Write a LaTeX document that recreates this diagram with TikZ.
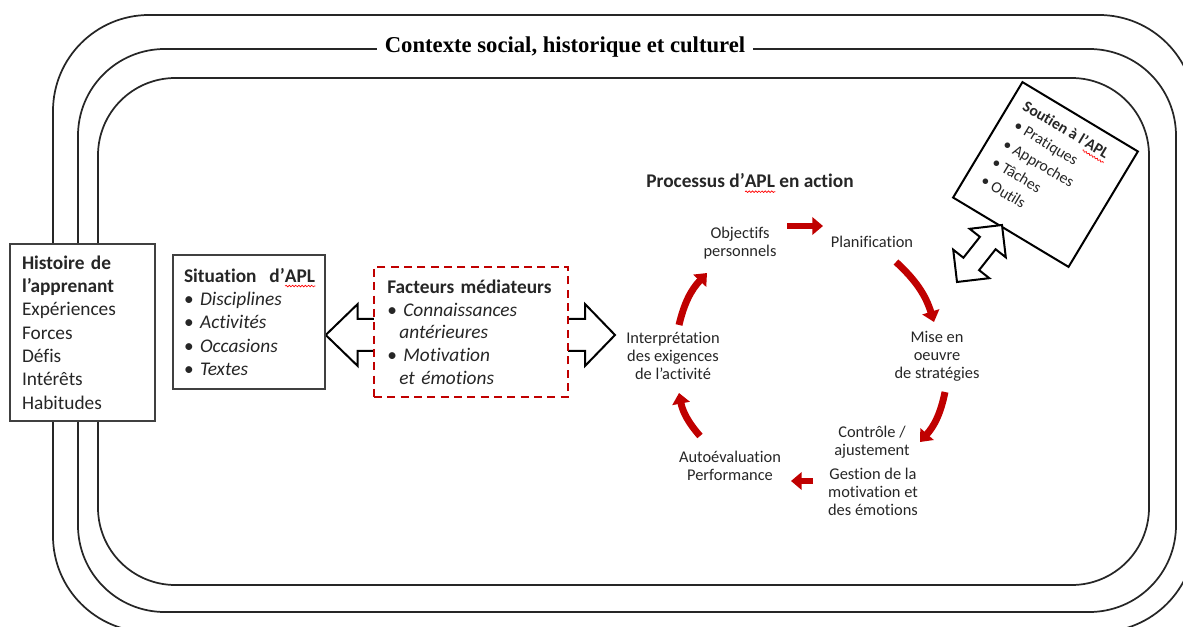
\documentclass[tikz,border=0pt]{standalone}
\usepackage{fontspec}
\setmainfont{Carlito}[Ligatures=NoCommon]
\newfontfamily\titlefont{Liberation Serif}
\usetikzlibrary{arrows.meta,calc,backgrounds,decorations.pathmorphing}
\definecolor{apred}{HTML}{C00000}
\definecolor{txt}{HTML}{262626}
\newsavebox\aplbox
\newcommand\apl{\leavevmode\sbox\aplbox{APL}\rlap{\smash{\tikz[baseline=0pt,x=1pt,y=1pt]\draw[red, line width=.5pt, decorate, decoration={snake,amplitude=.6pt,segment length=2.4pt}] (0,-2.8) -- (\wd\aplbox,-2.8);}}\usebox\aplbox}
\tikzset{
 ctx/.style={line width=1.3pt, draw=black!85},
 boxa/.style={draw=black!75, line width=1.1pt, fill=white, align=left, text=txt,
   font=\fontsize{14.5}{17.5}\selectfont},
 cyc/.style={align=center, inner sep=0pt, text=txt, font=\fontsize{12.3}{13.5}\selectfont},
 redarr/.style={draw=apred, line width=5.2pt, -{Triangle[width=13pt,length=8pt]}},
 blockarrow/.style={draw=black, line width=1.5pt, fill=white, line join=miter},
}
\begin{document}
\begin{tikzpicture}[x=0.75pt,y=-0.75pt]
\useasboundingbox (0,0) rectangle (1183,627);
% context frames
\begin{scope}
\clip (0,0) rectangle (1183,627);
\draw[ctx, rounded corners=72pt] (53,15) rectangle (1195,632);
\draw[ctx, rounded corners=65pt] (78,49) rectangle (1176,612);
\draw[ctx, rounded corners=58pt] (98,78) rectangle (1149,585);
\end{scope}
\node[fill=white, inner xsep=6pt, inner ysep=2pt, font=\titlefont\bfseries\fontsize{17}{20}\selectfont] (ctxt) at (565,47) {Contexte social, historique et culturel};

% left boxes
\node[boxa, minimum width=108.75pt, minimum height=132.75pt, text width=90.75pt, inner xsep=9pt] (hist) at (82.5,332.5)
 {\textbf{Histoire de}\\\textbf{l’apprenant}\\Expériences\\Forces\\Défis\\Intérêts\\Habitudes};

\node[boxa, minimum width=114pt, minimum height=100.5pt, text width=97.5pt, inner xsep=8.25pt] (sit) at (249,322)
 {\mbox{\textbf{Situation\ \ d’\apl}}\\\textbullet\ \textit{Disciplines}\\\textbullet\ \textit{Activités}\\\textbullet\ \textit{Occasions}\\\textbullet\ \textit{Textes}};

\node[boxa, draw=apred, dashed, dash pattern=on 6pt off 4pt, line width=1.5pt, minimum width=145.5pt, minimum height=97.5pt, text width=125.5pt, inner xsep=10pt,
  font=\fontsize{14.5}{17}\selectfont] (fact) at (471,332)
 {\textbf{Facteurs médiateurs}\\\textbullet\ \textit{Connaissances}\\\hspace*{9pt}\textit{antérieures}\\\textbullet\ \textit{Motivation}\\\hspace*{9pt}\textit{et émotions}};

% block double arrow between situation and facteurs
\coordinate (a1) at (sit.east |- 0,335);
\coordinate (a2) at (615,335);
\begin{scope}[on background layer]
\path[blockarrow] (a1) -- ++(32,-31) -- ++(0,15) -- ($(a2)+(-30,-16)$) -- ++(0,-15) -- (a2)
  -- ++(-30,31) -- ++(0,-15) -- ($(a1)+(32,16)$) -- ++(0,15) -- cycle;
\end{scope}

% soutien box
\node[draw=black, line width=1.5pt, fill=white, rotate=-31, minimum size=101pt, inner sep=0pt] (sout) at (1045.5,174.5) {};
\begin{scope}[shift={(sout.north west)}, rotate=-31, transform shape]
\node[anchor=north west, align=left, inner sep=0pt, text=txt, font=\fontsize{11.8}{16}\selectfont] (souttxt) at (14,13)
 {\textbf{Soutien à l’\apl}\\\hspace*{2pt}\textbullet\ Pratiques\\\hspace*{2pt}\textbullet\ Approches\\\hspace*{2pt}\textbullet\ Tâches\\\hspace*{2pt}\textbullet\ Outils};
\end{scope}

% double arrow to soutien box
\coordinate (d0) at (979.5,253.5);
\begin{scope}[shift={(d0)}, rotate=51.7]
\path[blockarrow] (36.3,0) -- (13.3,23) -- (13.3,10) -- (-13.3,10) -- (-13.3,23) -- (-36.3,0)
  -- (-13.3,-23) -- (-13.3,-10) -- (13.3,-10) -- (13.3,-23) -- cycle;
\end{scope}

% cycle
\node[inner sep=0pt, text=txt, font=\bfseries\fontsize{14.5}{17}\selectfont] (proc) at (750,181) {Processus d’\apl{} en action};
\node[cyc] (obj) at (740,243) {Objectifs\\personnels};
\node[cyc] (plan) at (872,242) {Planification};
\node[cyc] (mise) at (937,356) {Mise en\\oeuvre\\de stratégies};
\node[cyc] (ctrl) at (872,442) {Contrôle /\\ajustement};
\node[cyc] (gest) at (873,492) {Gestion de la\\motivation et\\des émotions};
\node[cyc] (auto) at (730,466) {Autoévaluation\\Performance};
\node[cyc] (interp) at (673,356) {Interprétation\\des exigences\\de l’activité};

\coordinate (r1a) at (787,226); \coordinate (r1b) at (823,226);
\coordinate (r2a) at (896,262); \coordinate (r2b) at (934,322);
\coordinate (r3a) at (945,392); \coordinate (r3b) at (920,442);
\coordinate (r4a) at (813,481); \coordinate (r4b) at (791,481);
\coordinate (r5a) at (700,436); \coordinate (r5b) at (679,393);
\coordinate (r6a) at (679,325); \coordinate (r6b) at (707,273);
\draw[redarr] (r1a) -- (r1b);
\draw[redarr] (r2a) to[bend left=15] (r2b);
\draw[redarr] (r3a) to[bend left=15] (r3b);
\draw[redarr] (r4a) -- (r4b);
\draw[redarr] (r5a) to[bend left=15] (r5b);
\draw[redarr] (r6a) to[bend left=15] (r6b);
\end{tikzpicture}
\end{document}
